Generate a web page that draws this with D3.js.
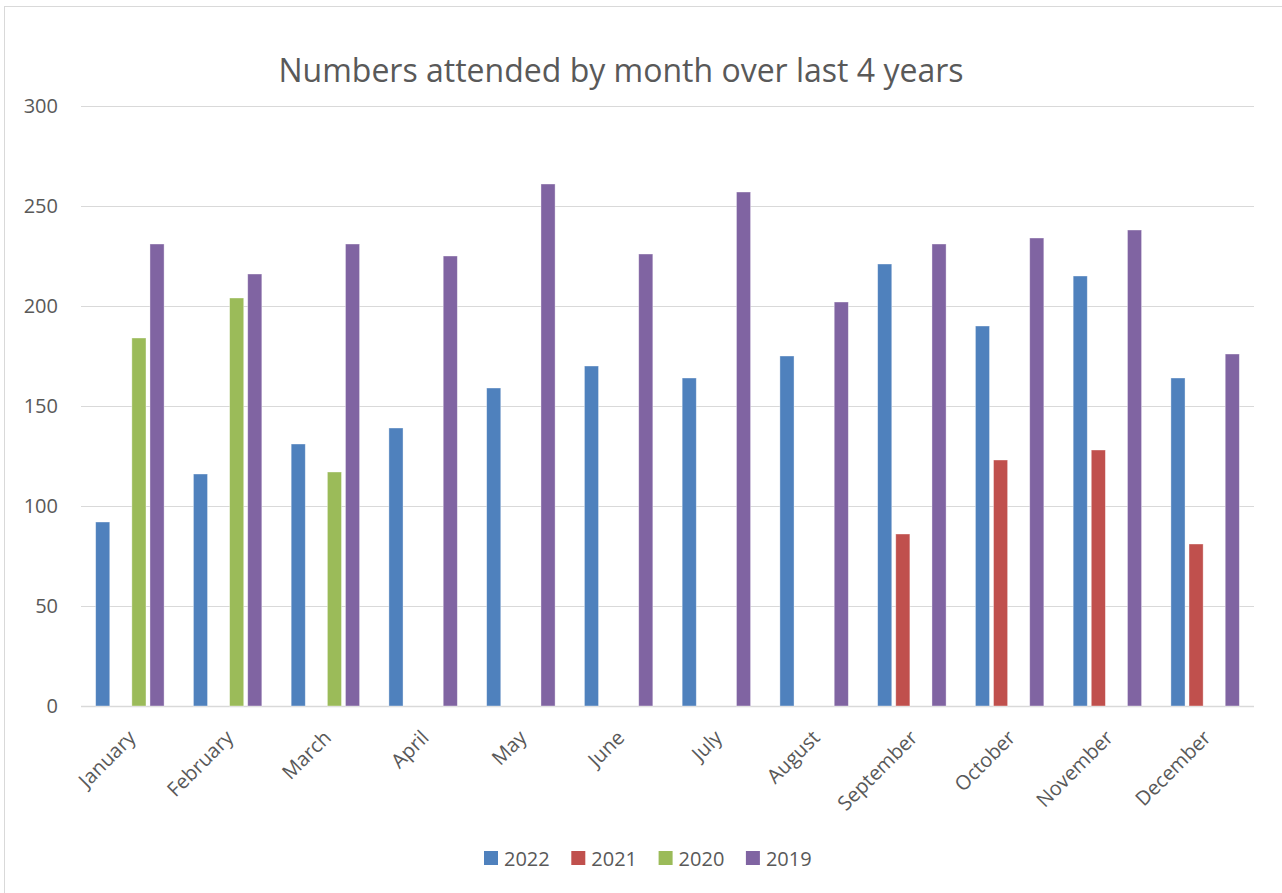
<!DOCTYPE html>
<html lang="en">
<head>
<meta charset="utf-8">
<title>Numbers attended by month</title>
<script src="https://d3js.org/d3.v7.min.js"></script>
<style>
body { margin: 0; background: #fff; }
svg text { font-family: "Open Sans", "Noto Sans", sans-serif; fill: #595959; }
</style>
</head>
<body>
<div id="chart"></div>
<script>
var width = 1282;
var height = 893;

// data
var months = ["January", "February", "March", "April", "May", "June",
              "July", "August", "September", "October", "November", "December"];
var seriesNames = ["2022", "2021", "2020", "2019"];
var v2022 = [92, 116, 131, 139, 159, 170, 164, 175, 221, 190, 215, 164];
var v2021 = [0, 0, 0, 0, 0, 0, 0, 0, 86, 123, 128, 81];
var v2020 = [184, 204, 117, 0, 0, 0, 0, 0, 0, 0, 0, 0];
var v2019 = [231, 216, 231, 225, 261, 226, 257, 202, 231, 234, 238, 176];
var yTicks = [0, 50, 100, 150, 200, 250, 300];
var colors = ["#4f81bd", "#c0504d", "#9bbb59", "#8064a2"];

var values = [v2022, v2021, v2020, v2019];

const svg = d3.select("#chart")
    .append("svg")
    .attr("width", width)
    .attr("height", height);

// chart frame
svg.append("rect")
    .attr("x", 4.5).attr("y", 6.5)
    .attr("width", 1300).attr("height", 900)
    .attr("fill", "#fff")
    .attr("stroke", "#d9d9d9");

var x0 = d3.scaleBand()
    .domain(months)
    .range([81, 1254])
    .paddingInner(0.3)
    .paddingOuter(0.15);

var x1 = d3.scaleBand()
    .domain(seriesNames)
    .range([0, x0.bandwidth()])
    .paddingInner(0.22);

var y = d3.scaleLinear()
    .domain([0, 300])
    .range([706, 106]);

var color = d3.scaleOrdinal().domain(seriesNames).range(colors);

// gridlines
svg.append("g")
    .selectAll("line")
    .data(yTicks)
    .join("line")
    .attr("x1", 81).attr("x2", 1254)
    .attr("y1", d => Math.round(y(d)) + 0.5)
    .attr("y2", d => Math.round(y(d)) + 0.5)
    .attr("stroke", "#d9d9d9")
    .attr("stroke-width", d => d === 0 ? 1.5 : 1);

// y axis labels
var yAxis = d3.axisLeft(y).tickValues(yTicks).tickSize(0).tickPadding(0);
svg.append("g")
    .attr("transform", "translate(58,0)")
    .call(yAxis)
    .call(g => g.select(".domain").remove())
    .selectAll("text")
    .style("font-size", "20px")
    .attr("fill", "#595959");

// bars
var rows = months.map((m, i) => ({
    month: m,
    items: seriesNames.map((s, k) => ({ series: s, value: values[k][i] }))
}));

svg.append("g")
    .selectAll("g")
    .data(rows)
    .join("g")
    .attr("transform", d => "translate(" + x0(d.month) + ",0)")
    .selectAll("rect")
    .data(d => d.items.filter(e => e.value > 0))
    .join("rect")
    .attr("x", d => x1(d.series))
    .attr("y", d => y(d.value))
    .attr("width", x1.bandwidth())
    .attr("height", d => y(0) - y(d.value))
    .attr("fill", d => color(d.series))
    .attr("stroke", "#fff")
    .attr("stroke-opacity", 0.5)
    .attr("stroke-width", 0.75);

// x axis labels
var xAxis = d3.axisBottom(x0).tickSize(0).tickPadding(0);
svg.append("g")
    .attr("transform", "translate(0,706)")
    .call(xAxis)
    .call(g => g.select(".domain").remove())
    .selectAll("text")
    .style("font-size", "20px")
    .attr("fill", "#595959")
    .attr("text-anchor", "end")
    .attr("dy", "0.35em")
    .attr("transform", "translate(2,28) rotate(-45)");

// title
svg.append("text")
    .attr("x", 621)
    .attr("y", 82)
    .attr("text-anchor", "middle")
    .style("font-size", "32px")
    .text("Numbers attended by month over last 4 years");

// legend
var legend = svg.append("g")
    .selectAll("g")
    .data(seriesNames)
    .join("g")
    .attr("transform", (d, i) => "translate(" + (484 + i * 87.3) + ",851)");

legend.append("rect")
    .attr("width", 14).attr("height", 14)
    .attr("fill", d => color(d));

legend.append("text")
    .attr("x", 20)
    .attr("y", 14.5)
    .style("font-size", "20px")
    .text(d => d);
</script>
</body>
</html>
